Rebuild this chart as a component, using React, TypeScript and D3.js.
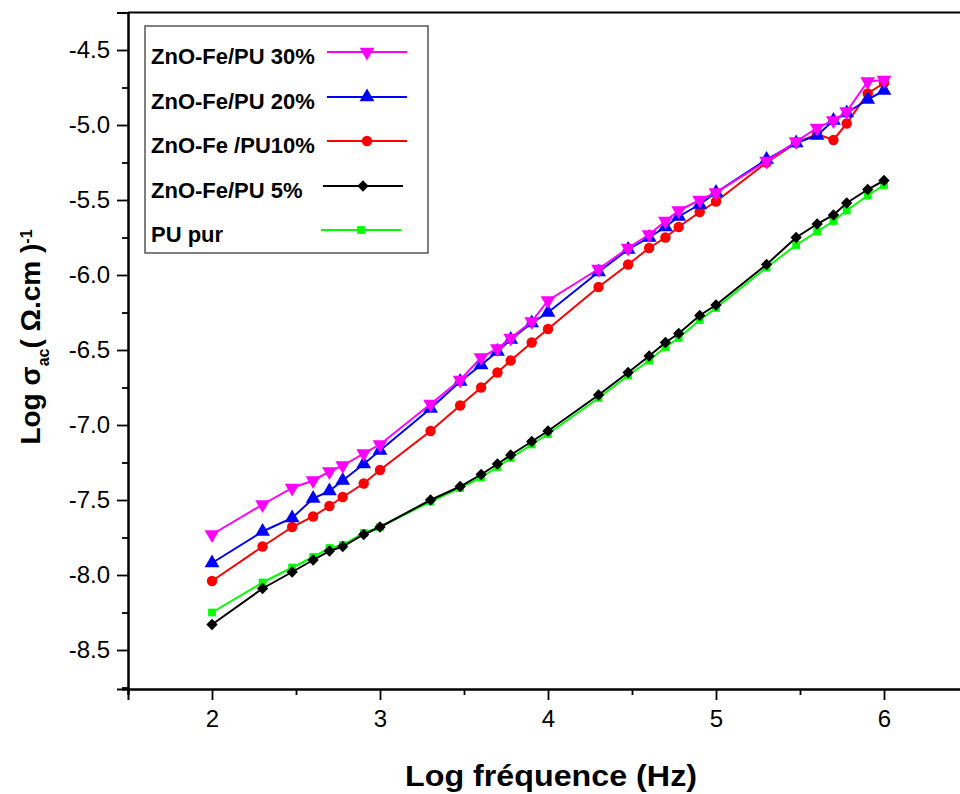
import React, { useRef, useEffect } from 'react';
import * as d3 from 'd3';

// log frequency (1,2,3,4,5,6,8 per decade)
const logF = [2, 2.301, 2.477, 2.602, 2.699, 2.778, 2.903, 3, 3.301, 3.477, 3.602, 3.699, 3.778, 3.903, 4, 4.301, 4.477, 4.602, 4.699, 4.778, 4.903, 5, 5.301, 5.477, 5.602, 5.699, 5.778, 5.903, 6];

const zn30 = [-7.73, -7.53, -7.42, -7.37, -7.31, -7.27, -7.19, -7.13, -6.86, -6.7, -6.55, -6.49, -6.42, -6.31, -6.17, -5.96, -5.82, -5.73, -5.64, -5.57, -5.5, -5.45, -5.24, -5.11, -5.02, -4.97, -4.91, -4.71, -4.7];
const zn20 = [-7.92, -7.71, -7.62, -7.49, -7.44, -7.37, -7.26, -7.17, -6.89, -6.71, -6.6, -6.51, -6.43, -6.32, -6.25, -5.98, -5.83, -5.75, -5.68, -5.61, -5.53, -5.45, -5.23, -5.12, -5.07, -4.97, -4.92, -4.83, -4.77];
const zn10 = [-8.04, -7.81, -7.68, -7.61, -7.54, -7.48, -7.39, -7.3, -7.04, -6.87, -6.75, -6.65, -6.57, -6.45, -6.36, -6.08, -5.93, -5.82, -5.75, -5.68, -5.58, -5.51, -5.25, -5.12, -5.06, -5.1, -4.99, -4.79, -4.72];
const zn5 = [-8.33, -8.09, -7.98, -7.9, -7.84, -7.81, -7.73, -7.68, -7.5, -7.41, -7.33, -7.26, -7.2, -7.11, -7.04, -6.8, -6.65, -6.54, -6.45, -6.39, -6.27, -6.2, -5.93, -5.75, -5.66, -5.6, -5.52, -5.43, -5.37];
const puPur = [-8.25, -8.05, -7.95, -7.88, -7.82, -7.8, -7.72, -7.68, -7.51, -7.42, -7.35, -7.28, -7.22, -7.13, -7.06, -6.82, -6.67, -6.57, -6.48, -6.42, -6.3, -6.22, -5.95, -5.8, -5.71, -5.64, -5.57, -5.47, -5.4];

const xTicks = [2, 3, 4, 5, 6];
const yTicks = [-4.5, -5, -5.5, -6, -6.5, -7, -7.5, -8, -8.5];

// legend order (top to bottom)
const series = [
  { name: 'ZnO-Fe/PU 30%', values: zn30, color: '#ff00ff', shape: 'down' },
  { name: 'ZnO-Fe/PU 20%', values: zn20, color: '#0000ff', shape: 'up' },
  { name: 'ZnO-Fe /PU10%', values: zn10, color: '#ff0000', shape: 'circle' },
  { name: 'ZnO-Fe/PU 5%', values: zn5, color: '#000000', shape: 'diamond' },
  { name: 'PU pur', values: puPur, color: '#00ff00', shape: 'square' },
];

const W = 960;
const H = 794;
const left = 128;
const top = 12.5;
const bottom = 689;
const font = '"Liberation Sans", Arial, sans-serif';

const marker = (shape: string) => {
  if (shape === 'down' || shape === 'up') return d3.symbol(d3.symbolTriangle, 95)();
  if (shape === 'circle') return d3.symbol(d3.symbolCircle, 85)();
  if (shape === 'diamond') return d3.symbol(d3.symbolSquare, 64)();
  return d3.symbol(d3.symbolSquare, 60)();
};
const rot = (shape: string) => (shape === 'down' ? ' rotate(180)' : shape === 'diamond' ? ' rotate(45)' : '');

const fmt = (d: number) => d3.format('.1f')(d).replace('−', '-');

export default function App() {
  const svgRef = useRef<SVGSVGElement>(null);

  const x = d3.scaleLinear().domain([1.5, 6.5]).range([left, 968]);
  const y = d3.scaleLinear().domain([-8.76, -4.25]).range([bottom, top]);

  useEffect(() => {
    document.body.style.margin = '0';
    const svg = d3.select(svgRef.current);
    svg.selectAll('.axis').remove();

    const xMinor = d3.range(1.5, 6.6, 0.5).filter((v) => !xTicks.includes(v));
    const yMinor = d3.range(-8.75, -4.2, 0.25).filter((v) => !yTicks.some((t) => Math.abs(t - v) < 1e-6));

    const gx = svg.append('g').attr('class', 'axis').attr('transform', `translate(0,${bottom})`);
    gx.call(d3.axisBottom(x).tickValues(xMinor).tickSize(6).tickFormat(() => ''));
    gx.append('g').call(d3.axisBottom(x).tickValues(xTicks).tickSize(11).tickPadding(10).tickFormat(d3.format('d')));

    const gy = svg.append('g').attr('class', 'axis').attr('transform', `translate(${left},0)`);
    gy.call(d3.axisLeft(y).tickValues(yMinor).tickSize(6).tickFormat(() => ''));
    gy.append('g').call(d3.axisLeft(y).tickValues(yTicks).tickSize(11).tickPadding(7).tickFormat((d) => fmt(d as number)));

    gx.select('g').select('path.domain').remove();
    gy.select('g').select('path.domain').remove();

    svg.selectAll('.axis path.domain').attr('stroke', '#000').attr('stroke-width', 2);
    svg.selectAll('.axis g.tick line').attr('stroke', '#000').attr('stroke-width', 1.8);
    svg
      .selectAll('.axis text')
      .attr('fill', '#000')
      .style('font-family', font)
      .style('font-size', '24px');
  }, []);

  const line = d3
    .line<number>()
    .x((d, i) => x(logF[i]))
    .y((d) => y(d));

  const drawOrder = [...series].reverse();
  const legendRows = [56, 101, 145, 190, 234];

  return (
    <svg ref={svgRef} width={W} height={H} style={{ display: 'block', background: '#fff' }}>
      <rect x={0} y={0} width={W} height={H} fill="#fff" />
      {/* top frame */}
      <line x1={left} x2={W} y1={top} y2={top} stroke="#000" strokeWidth={2} />

      {drawOrder.map((s) => (
        <g key={s.name}>
          <path d={line(s.values) || ''} fill="none" stroke={s.color} strokeWidth={2} />
          {s.values.map((v, i) => (
            <path
              key={i}
              d={marker(s.shape) || ''}
              transform={`translate(${x(logF[i])},${y(v)})${rot(s.shape)}`}
              fill={s.color}
            />
          ))}
        </g>
      ))}

      {/* legend */}
      <rect x={145} y={26} width={283} height={227} fill="#fff" stroke="#555" strokeWidth={1.5} />
      {series.map((s, i) => {
        const ly = legendRows[i];
        const x0 = i < 3 ? 327 : i === 3 ? 323 : 321;
        return (
          <g key={s.name}>
            <text x={151} y={ly + 8} fontFamily={font} fontWeight="bold" fontSize={22}>
              {s.name}
            </text>
            <line x1={x0} x2={x0 + 80} y1={ly - 4} y2={ly - 4} stroke={s.color} strokeWidth={2} />
            <path d={marker(s.shape) || ''} transform={`translate(${x0 + 40},${ly - 4})${rot(s.shape)}`} fill={s.color} />
          </g>
        );
      })}

      {/* axis titles */}
      <text
        x={551}
        y={786}
        textAnchor="middle"
        fontFamily={font}
        fontWeight="bold"
        fontSize={30}
        textLength={292}
        lengthAdjust="spacingAndGlyphs"
      >
        Log fréquence (Hz)
      </text>
      <text transform="translate(40,337) rotate(-90)" textAnchor="middle" fontFamily={font} fontWeight="bold" fontSize={28}>
        Log σ<tspan baselineShift="sub" fontSize={16}>ac</tspan>
        <tspan>( Ω.cm )</tspan>
        <tspan baselineShift="super" fontSize={16}>-1</tspan>
      </text>
    </svg>
  );
}
